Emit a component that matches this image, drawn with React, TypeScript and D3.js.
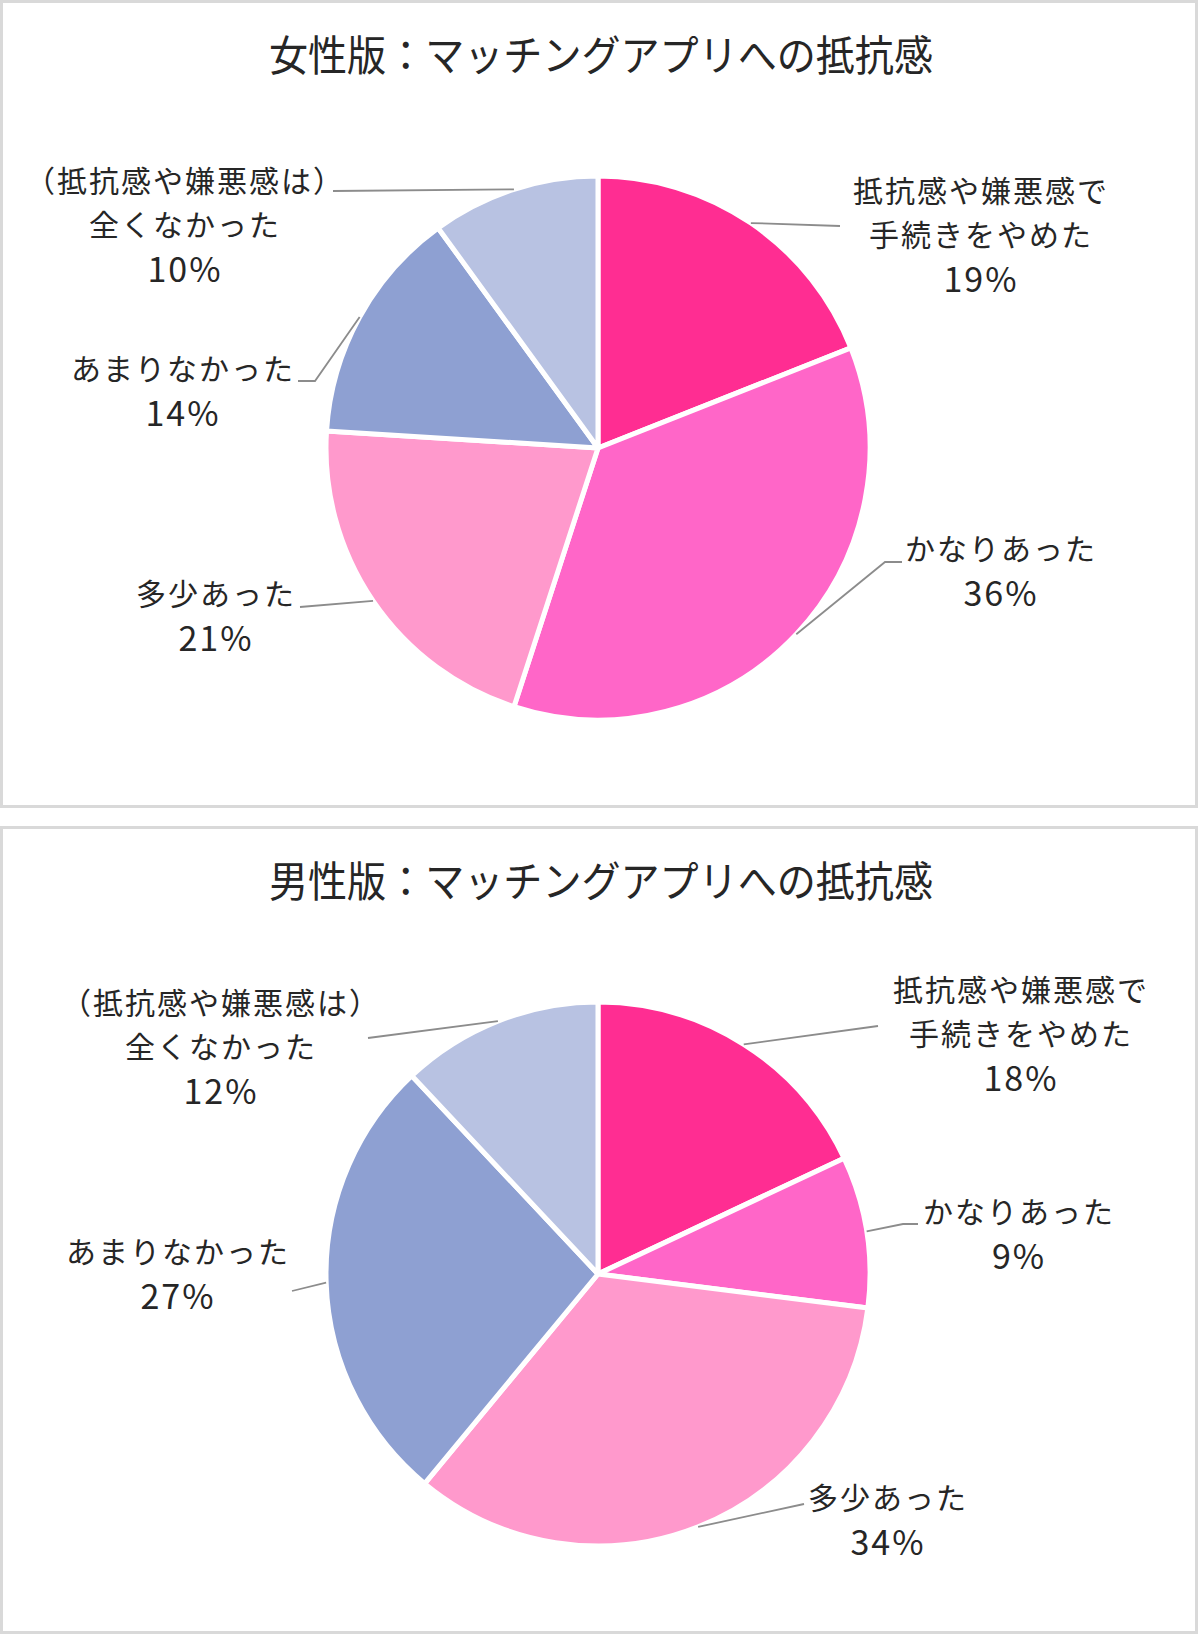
import React, { useEffect, useRef } from 'react';
import * as d3 from 'd3';

// categories (label text split the way the chart wraps it)
const categoryLines = [
  ['抵抗感や嫌悪感で', '手続きをやめた'],
  ['かなりあった'],
  ['多少あった'],
  ['あまりなかった'],
  ['（抵抗感や嫌悪感は）', '全くなかった'],
];
const femaleValues = [19, 36, 21, 14, 10];
const maleValues = [18, 9, 34, 27, 12];
const sliceColors = ['#ff2d92', '#ff66c8', '#ff99cc', '#8ea0d2', '#b8c2e2'];
const titles = ['女性版：マッチングアプリへの抵抗感', '男性版：マッチングアプリへの抵抗感'];

// label layout (label centre x, first line y) + leader bend/end points, page coords
const femaleLabelPos = [[980, 192], [1000, 550], [215, 595], [182, 370], [184, 182]];
const femaleLeaders = [[[840, 226]], [[885, 562], [902, 562]], [[300, 607]], [[315, 381], [298, 381]], [[333, 191]]];
const maleLabelPos = [[1020, 991], [1018, 1213], [887, 1499], [177, 1253], [220, 1004]];
const maleLeaders = [[[878, 1026]], [[903, 1224], [918, 1224]], [[804, 1504]], [[292, 1291]], [[368, 1038]]];

const W = 1200;
const H = 1637;
const FONT = '"Noto Sans CJK JP", "Noto Sans", sans-serif';
const TEXT = '#262626';

export default function App() {
  const svgRef = useRef<SVGSVGElement>(null);

  useEffect(() => {
    if (!svgRef.current) return;
    const svg = d3.select(svgRef.current);
    svg.selectAll('*').remove();

    svg.append('rect').attr('width', W).attr('height', H).attr('fill', '#ffffff');

    const charts = [
      { values: femaleValues, title: titles[0], top: 0, labelPos: femaleLabelPos, leaders: femaleLeaders },
      { values: maleValues, title: titles[1], top: 826, labelPos: maleLabelPos, leaders: maleLeaders },
    ];

    const radius = 272;
    const pie = d3.pie<number>().sort(null).value(d => d);
    const arc = d3.arc<d3.PieArcDatum<number>>().innerRadius(0).outerRadius(radius);

    charts.forEach(chart => {
      // panel frame
      svg.append('rect')
        .attr('x', 1.5)
        .attr('y', chart.top + 1.5)
        .attr('width', 1195)
        .attr('height', 805)
        .attr('fill', 'none')
        .attr('stroke', '#d9d9d9')
        .attr('stroke-width', 3);

      // title
      svg.append('text')
        .attr('x', 601)
        .attr('y', chart.top + 52)
        .attr('text-anchor', 'middle')
        .attr('dominant-baseline', 'central')
        .attr('font-family', FONT)
        .attr('font-size', 42)
        .attr('textLength', 664)
        .attr('lengthAdjust', 'spacingAndGlyphs')
        .attr('fill', '#262626')
        .text(chart.title);

      const cx = 598;
      const cy = chart.top + 448;
      const g = svg.append('g').attr('transform', `translate(${cx},${cy})`);
      const arcs = pie(chart.values);

      g.selectAll('path.slice')
        .data(arcs)
        .enter()
        .append('path')
        .attr('class', 'slice')
        .attr('d', arc)
        .attr('fill', (_, i) => sliceColors[i])
        .attr('stroke', '#ffffff')
        .attr('stroke-width', 5)
        .attr('stroke-linejoin', 'round');

      // leader lines: start on the arc at the slice's mid angle
      arcs.forEach((a, i) => {
        const mid = (a.startAngle + a.endAngle) / 2;
        const start: [number, number] = [cx + radius * Math.sin(mid), cy - radius * Math.cos(mid)];
        const pts = [start, ...chart.leaders[i]] as [number, number][];
        svg.append('path')
          .attr('d', d3.line()(pts))
          .attr('fill', 'none')
          .attr('stroke', '#8c8c8c')
          .attr('stroke-width', 1.8);
      });

      // labels
      arcs.forEach((a, i) => {
        const [lx, ly] = chart.labelPos[i];
        const lines = [...categoryLines[i], `${chart.values[i]}%`];
        const t = svg.append('text')
          .attr('text-anchor', 'middle')
          .attr('font-family', FONT)
          .attr('fill', TEXT);
        lines.forEach((line, j) => {
          const isPct = j === lines.length - 1;
          t.append('tspan')
            .attr('x', lx + 1)
            .attr('y', ly + j * 44 + (isPct ? 12 : 10))
            .attr('font-size', isPct ? 34 : 30)
            .attr('letter-spacing', 2)
            .text(line);
        });
      });
    });
  }, []);

  return (
    <svg
      ref={svgRef}
      width={W}
      height={H}
      style={{ position: 'absolute', left: 0, top: 0, display: 'block' }}
    />
  );
}
